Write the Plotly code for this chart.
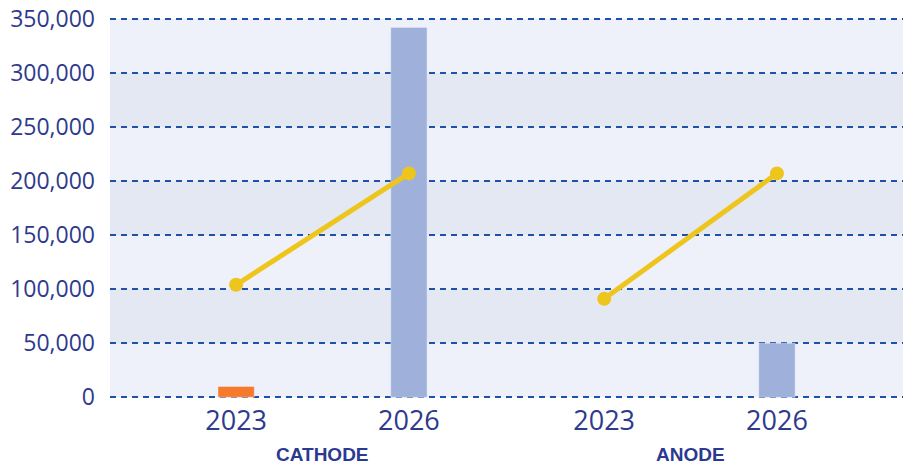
import plotly.graph_objects as go

groups = ["CATHODE", "ANODE"]
years = ["2023", "2026"]
bar_2023 = [10000, None]          # orange bars (2023)
bar_2026 = [342000, 50000]        # blue bars (2026)
line_vals = [[104000, 207000], [91000, 207000]]  # yellow line per group
y_ticks = [0, 50000, 100000, 150000, 200000, 250000, 300000, 350000]

GROUP_PITCH = 2.13
def xpos(g, yi):
    return g * GROUP_PITCH + yi

TICK_COLOR = "#2e3a8c"
fig = go.Figure()

# orange 2023 bars
fig.add_trace(go.Bar(x=[xpos(g, 0) for g in range(len(groups))], y=bar_2023,
                     marker_color="#f7792c", width=0.21, showlegend=False))
# blue 2026 bars
fig.add_trace(go.Bar(x=[xpos(g, 1) for g in range(len(groups))], y=bar_2026,
                     marker_color="#9fb1db", width=0.21, showlegend=False))
# yellow lines
for g, vals in enumerate(line_vals):
    fig.add_trace(go.Scatter(x=[xpos(g, i) for i in range(len(years))], y=vals,
                             mode="lines+markers",
                             line=dict(color="#eec51c", width=5),
                             marker=dict(color="#eec51c", size=14),
                             showlegend=False))

# alternating bands
shapes = []
for i in range(len(y_ticks) - 1):
    shapes.append(dict(type="rect", xref="paper", yref="y", x0=0, x1=1,
                       y0=y_ticks[i], y1=y_ticks[i + 1],
                       fillcolor="#e4e8f3" if i % 2 == 1 else "#eef1f9",
                       line=dict(width=0), layer="below"))

annotations = []
for g, name in enumerate(groups):
    annotations.append(dict(x=(xpos(g, 0) + xpos(g, 1)) / 2, xref="x",
                            y=-0.145, yref="paper", yanchor="middle",
                            text="<b>" + name + "</b>", showarrow=False,
                            font=dict(family="Liberation Sans", size=19, color="#2b3990")))

tickvals = [xpos(g, i) for g in range(len(groups)) for i in range(len(years))]
ticktext = [y for g in groups for y in years]

pad = 1600
fig.update_layout(
    width=903, height=458,
    margin=dict(l=102, r=1, t=9, b=67, autoexpand=False),
    paper_bgcolor="white",
    plot_bgcolor="white",
    barmode="overlay",
    shapes=shapes,
    annotations=annotations,
    font=dict(family="Open Sans", color=TICK_COLOR),
    xaxis=dict(range=[-0.73, xpos(1, 1) + 0.77], tickvals=tickvals, ticktext=ticktext,
               showgrid=False, zeroline=False, showline=False, automargin=False,
               tickfont=dict(size=27, color=TICK_COLOR), ticks="", ticklabelstandoff=3),
    yaxis=dict(range=[-pad, y_ticks[-1] + pad], tickvals=y_ticks, tickformat=",d",
               showgrid=True, gridcolor="#1d52a6", gridwidth=1.5, griddash="6px,5px",
               zeroline=False, showline=False, ticklabeloverflow="allow", automargin=False,
               tickfont=dict(size=23, color=TICK_COLOR), ticks="", ticklabelstandoff=14),
)

fig.write_html("out.html")
